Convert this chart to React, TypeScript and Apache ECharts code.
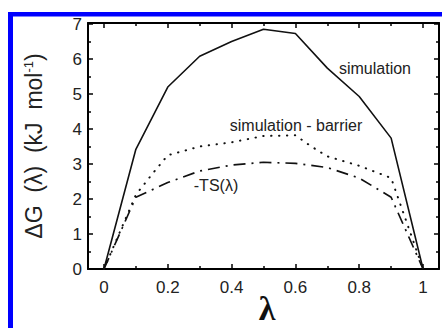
import React, { useEffect, useRef } from "react";
import * as echarts from "echarts";

const lambdas = [0, 0.1, 0.2, 0.3, 0.4, 0.5, 0.6, 0.7, 0.8, 0.9, 1.0];
const simulation = [0, 3.42, 5.2, 6.08, 6.5, 6.85, 6.73, 5.74, 4.93, 3.74, 0];
const barrierX = [0, 0.1, 0.15, 0.2, 0.3, 0.4, 0.5, 0.6, 0.65, 0.7, 0.8, 0.9, 1.0];
const barrierY = [0, 2.12, 2.7, 3.25, 3.5, 3.62, 3.8, 3.82, 3.5, 3.22, 2.95, 2.6, 0];
const minusTS = [0, 2.05, 2.47, 2.8, 2.97, 3.05, 3.02, 2.9, 2.6, 2.05, 0];

const majorX = [0, 0.2, 0.4, 0.6, 0.8, 1];
const minorX = [0.1, 0.3, 0.5, 0.7, 0.9];
const yTicks = [0, 1, 2, 3, 4, 5, 6, 7];

const FONT = "Liberation Sans";
const AXIS_COLOR = "#000000";

export default function App() {
  const ref = useRef<HTMLDivElement>(null);
  useEffect(() => {
    if (!ref.current) return;
    const chart = echarts.init(ref.current, null, { renderer: "svg" });
    const tickStyle = { color: AXIS_COLOR, width: 1.5 };
    const lineOn = { show: true, onZero: false, lineStyle: { color: AXIS_COLOR, width: 2 } };
    const lineOff = { show: false, onZero: false };
    const xBase = {
      type: "value" as const,
      min: -0.05,
      max: 1.05,
      splitLine: { show: false },
    };
    const yBase = {
      type: "value" as const,
      min: 0,
      max: 7.03,
      splitLine: { show: false },
    };
    chart.setOption({
      animation: false,
      backgroundColor: "#fff",
      grid: { left: 88, right: 3, top: 23, bottom: 59 },
      xAxis: [
        {
          ...xBase,
          position: "bottom",
          axisLine: lineOn,
          axisTick: { show: true, inside: true, length: 5, customValues: majorX, lineStyle: tickStyle },
          axisLabel: {
            customValues: majorX,
            margin: 10,
            fontFamily: FONT,
            fontSize: 17,
            color: "#222",
          },
        },
        {
          ...xBase,
          position: "bottom",
          axisLine: lineOff,
          axisTick: { show: true, inside: true, length: 3, customValues: minorX, lineStyle: tickStyle },
          axisLabel: { show: false },
        },
        {
          ...xBase,
          position: "top",
          axisLine: lineOn,
          axisTick: { show: true, inside: true, length: 5, customValues: majorX, lineStyle: tickStyle },
          axisLabel: { show: false },
        },
        {
          ...xBase,
          position: "top",
          axisLine: lineOff,
          axisTick: { show: true, inside: true, length: 3, customValues: minorX, lineStyle: tickStyle },
          axisLabel: { show: false },
        },
      ],
      yAxis: [
        {
          ...yBase,
          position: "left",
          axisLine: lineOn,
          axisTick: { show: true, inside: true, length: 5, customValues: yTicks, lineStyle: tickStyle },
          minorTick: { show: true, splitNumber: 2, length: 3, lineStyle: tickStyle },
          axisLabel: {
            customValues: yTicks,
            margin: 6,
            fontFamily: FONT,
            fontSize: 17,
            color: "#222",
          },
          name: "ΔG  (λ)  (kJ  mol{sup|-1})",
          nameLocation: "middle",
          nameRotate: 90,
          nameGap: 43,
          nameTextStyle: {
            fontFamily: FONT,
            fontSize: 23,
            color: "#222",
            rich: {
              sup: {
                fontFamily: FONT,
                fontSize: 13,
                color: "#222",
                verticalAlign: "top",
                padding: [0, 0, 10, 0],
              },
            },
          },
        },
        {
          ...yBase,
          position: "right",
          axisLine: lineOn,
          axisTick: { show: true, inside: true, length: 5, customValues: yTicks, lineStyle: tickStyle },
          minorTick: { show: true, splitNumber: 2, length: 3, lineStyle: tickStyle },
          axisLabel: { show: false },
        },
      ],
      series: [
        {
          type: "line",
          name: "simulation",
          data: lambdas.map((x, i) => [x, simulation[i]]),
          symbol: "none",
          lineStyle: { color: "#111", width: 1.6, type: "solid" },
        },
        {
          type: "line",
          name: "simulation - barrier",
          data: barrierX.map((x, i) => [x, barrierY[i]]),
          symbol: "none",
          lineStyle: { color: "#111", width: 2, type: [0.4, 7.5], cap: "round" },
        },
        {
          type: "line",
          name: "-TS(λ)",
          data: lambdas.map((x, i) => [x, minusTS[i]]),
          symbol: "none",
          lineStyle: { color: "#111", width: 1.7, type: [12, 6, 2, 6] },
        },
      ],
      graphic: [
        { type: "rect", shape: { x: 8, y: 12, width: 434, height: 4.5 }, style: { fill: "#0000ff" } },
        { type: "rect", shape: { x: 8, y: 12, width: 5, height: 316 }, style: { fill: "#0000ff" } },
        {
          type: "text",
          x: 375,
          y: 68,
          style: { text: "simulation", fontFamily: FONT, fontSize: 16, fill: "#222", align: "center", verticalAlign: "middle" },
        },
        {
          type: "text",
          x: 296,
          y: 125,
          style: { text: "simulation - barrier", fontFamily: FONT, fontSize: 16, fill: "#222", align: "center", verticalAlign: "middle" },
        },
        {
          type: "text",
          x: 216,
          y: 185,
          style: { text: "-TS(λ)", fontFamily: FONT, fontSize: 16, fill: "#222", align: "center", verticalAlign: "middle" },
        },
        {
          type: "text",
          x: 267,
          y: 325,
          style: { text: "λ", fontFamily: "Liberation Serif", fontSize: 34, fontWeight: "bold", fill: "#111", align: "center", verticalAlign: "bottom" },
        },
      ],
    });
    return () => chart.dispose();
  }, []);
  return (
    <div
      ref={ref}
      style={{ position: "fixed", left: 0, top: 0, width: 442, height: 328 }}
    />
  );
}
